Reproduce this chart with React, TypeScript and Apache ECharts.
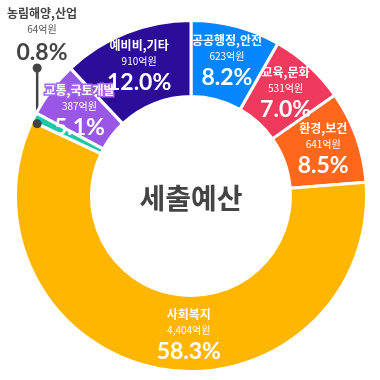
import React, { useEffect, useRef } from "react";
import * as echarts from "echarts";

const categories = ["공공행정,안전", "교육,문화", "환경,보건", "사회복지", "농림해양,산업", "교통,국토개발", "예비비,기타"];
const values = [623, 531, 641, 4404, 64, 387, 910];
const percentLabels = ["8.2%", "7.0%", "8.5%", "58.3%", "0.8%", "5.1%", "12.0%"];
const colors = ["#0586FF", "#EF3A5E", "#FF671C", "#FFB600", "#1FC8A5", "#9A57E6", "#2B0D99"];
const centerTitle = "세출예산";

const CX = 191;
const CY = 196;
const R0 = 99.5;
const R1 = 175.5;
const FONT = "'Noto Sans CJK KR', 'Noto Sans', sans-serif";
const NUM_FONT = "Lato, 'Noto Sans', sans-serif";

function anglePoint(index: number, part: number, r: number) {
  const total = values.reduce((a, b) => a + b, 0);
  let cum = 0;
  for (let i = 0; i < index; i++) cum += values[i];
  const frac = (cum + values[index] * part) / total;
  const ang = frac * Math.PI * 2;
  return [CX + r * Math.sin(ang), CY - r * Math.cos(ang)];
}

export default function App() {
  const ref = useRef<HTMLDivElement>(null);
  useEffect(() => {
    if (!ref.current) return;
    const chart = echarts.init(ref.current, null, { renderer: "svg" });
    const smallIdx = 4;
    const dotLow = anglePoint(smallIdx, 0, R1 - 5.5);
    const dotHigh = [dotLow[0], 68];
    const data = values.map((v, i) => {
      const item: any = {
        name: categories[i],
        value: v,
        itemStyle: { color: colors[i] },
      };
      if (i === smallIdx) {
        item.label = {
          position: "outside",
          rich: {
            n: { fontSize: 12, fontWeight: "bold", color: "#444", lineHeight: 17, fontFamily: FONT },
            v: { fontSize: 10, color: "#555", lineHeight: 14.5, fontFamily: FONT },
            p: { fontSize: 23, fontWeight: "bold", color: "#444", lineHeight: 30, fontFamily: NUM_FONT },
          },
        };
        item.labelLine = { show: true, lineStyle: { color: "#444", width: 2.5 } };
      }
      if (i === 5) {
        item.label = {
          rich: {
            n: {
              fontSize: 12, fontWeight: "bold", color: "#fff", lineHeight: 17, fontFamily: FONT,
              textBorderColor: "#A466EA", textBorderWidth: 3,
            },
          },
        };
      }
      return item;
    });
    chart.setOption({
      animation: false,
      graphic: [
        {
          type: "text",
          x: CX,
          y: CY + 1,
          style: {
            text: centerTitle,
            fontSize: 28,
            fontWeight: "bold",
            fill: "#444",
            fontFamily: FONT,
            align: "center",
            verticalAlign: "middle",
          },
        },
        { type: "circle", shape: { cx: dotLow[0], cy: dotLow[1], r: 4.5 }, style: { fill: "#444" }, z: 10 },
        { type: "circle", shape: { cx: dotHigh[0], cy: dotHigh[1], r: 4.5 }, style: { fill: "#444" }, z: 10 },
      ],
      series: [
        {
          type: "pie",
          center: [CX, CY],
          radius: [R0, R1],
          startAngle: 90,
          clockwise: true,
          avoidLabelOverlap: false,
          itemStyle: { borderColor: "#fff", borderWidth: 3 },
          label: {
            show: true,
            position: "inside",
            fontFamily: FONT,
            formatter: (p: any) =>
              `{n|${p.name}}\n{v|${values[p.dataIndex].toLocaleString("en-US")}억원}\n{p|${percentLabels[p.dataIndex]}}`,
            rich: {
              n: { fontSize: 12, fontWeight: "bold", color: "#fff", lineHeight: 17, fontFamily: FONT },
              v: { fontSize: 10, color: "#fff", lineHeight: 14.5, fontFamily: FONT },
              p: { fontSize: 23, fontWeight: "bold", color: "#fff", lineHeight: 27, fontFamily: NUM_FONT },
            },
          },
          labelLine: { show: false },
          labelLayout: (params: any) => {
            if (params.dataIndex === 3) return { dx: 23 };
            if (params.dataIndex === smallIdx) {
              return {
                x: 42,
                y: 35,
                align: "center",
                verticalAlign: "middle",
                labelLinePoints: [dotLow, [dotLow[0], (dotLow[1] + dotHigh[1]) / 2], dotHigh],
              };
            }
            return {};
          },
          data,
        },
      ],
    });
    return () => chart.dispose();
  }, []);
  return (
    <div
      ref={ref}
      style={{ position: "fixed", left: 0, top: 0, width: 380, height: 380 }}
    />
  );
}
